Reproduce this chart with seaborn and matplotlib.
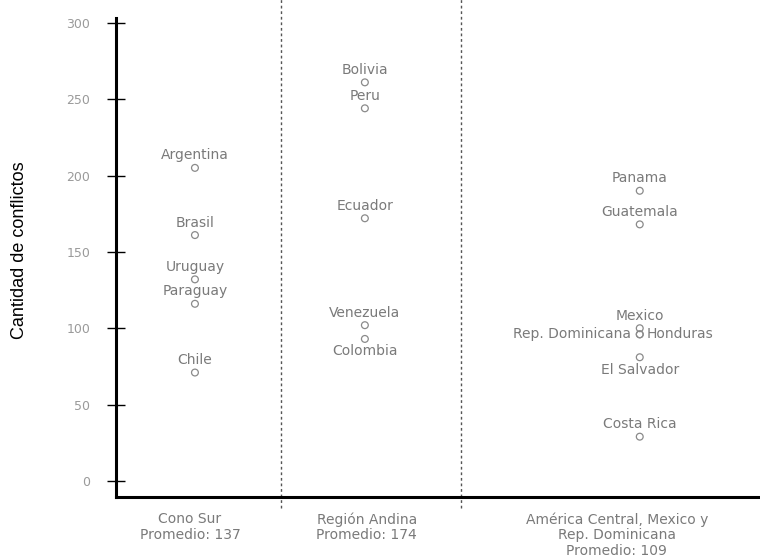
import pandas as pd
import matplotlib
matplotlib.use('Agg')
import matplotlib.pyplot as plt
import seaborn as sns

# data
groups = ['Cono Sur', 'Región Andina', 'America Central']
group_labels = ['Cono Sur\nPromedio: 137',
                'Región Andina\nPromedio: 174',
                'América Central, Mexico y\nRep. Dominicana\nPromedio: 109']

paises_cono = ['Argentina', 'Brasil', 'Uruguay', 'Paraguay', 'Chile']
conflictos_cono = [205, 161, 132, 116, 71]

paises_andina = ['Bolivia', 'Peru', 'Ecuador', 'Venezuela', 'Colombia']
conflictos_andina = [261, 244, 172, 102, 93]

paises_ca = ['Panama', 'Guatemala', 'Mexico', 'Rep. Dominicana', 'Honduras',
             'El Salvador', 'Costa Rica']
conflictos_ca = [190, 168, 100, 96, 96, 81, 29]

y_ticks = [0, 50, 100, 150, 200, 250, 300]

# layout (horizontal positions, in hundreds of pixels from the axis)
point_x = {groups[0]: 0.79, groups[1]: 2.49, groups[2]: 5.24}
label_x = [0.74, 2.51, 5.01]
dividers = [1.65, 3.45]
side = {'Colombia': 'below', 'El Salvador': 'below',
        'Rep. Dominicana': 'left', 'Honduras': 'right'}

df = pd.concat([
    pd.DataFrame({'pais': paises_cono, 'conflictos': conflictos_cono, 'grupo': groups[0]}),
    pd.DataFrame({'pais': paises_andina, 'conflictos': conflictos_andina, 'grupo': groups[1]}),
    pd.DataFrame({'pais': paises_ca, 'conflictos': conflictos_ca, 'grupo': groups[2]}),
], ignore_index=True)
df['x'] = df['grupo'].map(point_x)

sns.set_style('white')
plt.rcParams['font.family'] = ['DejaVu Sans']

fig = plt.figure(figsize=(7.6, 5.6), dpi=100)
ax = fig.add_axes([0.1526, 0.1125, 0.847, 0.855])

sns.scatterplot(data=df, x='x', y='conflictos', ax=ax, s=24, marker='o',
                facecolor='none', edgecolor='#8a8a8a', linewidth=0.9, legend=False)

text_color = '#7a7a7a'
for _, r in df.iterrows():
    s = side.get(r['pais'], 'above')
    if s == 'above':
        off, ha, va = (0, 9), 'center', 'center'
    elif s == 'below':
        off, ha, va = (0, -9), 'center', 'center'
    elif s == 'left':
        off, ha, va = (-6, 0), 'right', 'center'
    else:
        off, ha, va = (5, 0), 'left', 'center'
    ax.annotate(r['pais'], (r['x'], r['conflictos']), xytext=off,
                textcoords='offset points', ha=ha, va=va,
                fontsize=10, color=text_color)

for d in dividers:
    ax.axvline(d, ymin=-0.022, ymax=1.04, color='#555555', lw=1,
               linestyle=(0, (2, 2)), clip_on=False)

ax.set_xlim(0, 6.44)
ax.set_ylim(-10.5, 303)
ax.set_yticks(y_ticks)
ax.set_xticks(label_x)
ax.set_xticklabels(group_labels, color=text_color, fontsize=10, linespacing=1.15)
ax.tick_params(axis='x', length=0, pad=11)
ax.tick_params(axis='y', left=True, direction='inout', length=13, width=1,
               color='black', pad=12, labelsize=9, labelcolor='#9a9a9a')

ax.set_xlabel('')
ax.set_ylabel('Cantidad de conflictos', fontsize=13, color='black',
              family=['Liberation Sans', 'DejaVu Sans'])
ax.yaxis.set_label_coords(-0.137, 0.515)

sns.despine(ax=ax)
for sp in ['left', 'bottom']:
    ax.spines[sp].set_linewidth(2.2)
    ax.spines[sp].set_color('black')

fig.savefig('out.png', dpi=100)
